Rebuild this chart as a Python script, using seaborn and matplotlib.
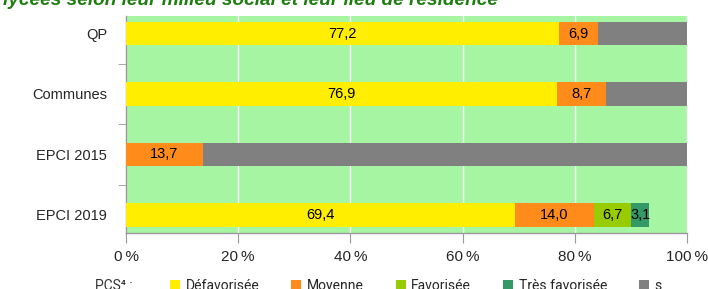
import numpy as np
import pandas as pd
import matplotlib
matplotlib.use("Agg")
import matplotlib.pyplot as plt
import matplotlib.patches as mpatches
import seaborn as sns

# data
categories = ["QP", "Communes", "EPCI 2015", "EPCI 2019"]
series = ["Défavorisée", "Moyenne", "Favorisée", "Très favorisée", "s"]
defavorisee = [77.2, 76.9, 0.0, 69.4]
moyenne = [6.9, 8.7, 13.7, 14.0]
favorisee = [0.0, 0.0, 0.0, 6.7]
tres_favorisee = [0.0, 0.0, 0.0, 3.1]
secret = [15.9, 14.4, 86.3, 0.0]
xticks = [0, 20, 40, 60, 80, 100]

colors = ["#ffee00", "#ff8c1a", "#99cc00", "#339966", "#808080"]
bg = "#a6f5a3"

df = pd.DataFrame({"cat": categories, "Défavorisée": defavorisee, "Moyenne": moyenne,
                   "Favorisée": favorisee, "Très favorisée": tres_favorisee, "s": secret})
cum = df[series].cumsum(axis=1)
cum["cat"] = df["cat"]

sns.set_style("white")
plt.rcParams["font.family"] = ["Liberation Sans", "DejaVu Sans"]

fig = plt.figure(figsize=(7.08, 2.89), dpi=100)
ax = fig.add_axes([126 / 708, 1 - 233 / 289, (687 - 126) / 708, (233 - 16) / 289])
ax.set_facecolor(bg)

# stacked bars: draw the widest cumulative first
for name, col in reversed(list(zip(series, colors))):
    sns.barplot(data=cum, x=name, y="cat", orient="h", color=col, saturation=1,
                width=0.39, linewidth=0, ax=ax, zorder=3)

# value labels in segment centres (not for "s")
for i, cat in enumerate(categories):
    left = 0
    for name in series:
        v = df.loc[i, name]
        if v > 0 and name != "s":
            ax.text(left + v / 2, i, f"{v:.1f}".replace(".", ","), ha="center", va="center",
                    fontsize=10.5, color="black", zorder=5)
        left += v

ax.set_xlim(0, 100)
ax.set_ylim(3.3, -0.29)
ax.set_xticks(xticks)
ax.set_xticklabels([f"{t}\u2009%" for t in xticks],
                   family=["Liberation Sans Narrow", "Liberation Sans", "DejaVu Sans"], fontsize=11)
ax.set_yticks(range(len(categories)))
ax.set_yticklabels(categories, fontsize=10.5)
ax.set_yticks([0.5, 1.5, 2.5], minor=True)
ax.set_xlabel("")
ax.set_ylabel("")
ax.grid(axis="x", color="white", linewidth=1, zorder=1)
ax.set_axisbelow(True)
ax.tick_params(axis="x", length=7, pad=5, color="#999999", bottom=True)
ax.tick_params(axis="y", which="major", length=0, pad=13.7)
ax.tick_params(axis="y", which="minor", length=6, color="#999999", left=True)
for s in ["top", "right"]:
    ax.spines[s].set_visible(False)
for s in ["left", "bottom"]:
    ax.spines[s].set_color("#999999")
    ax.spines[s].set_linewidth(1)

# title, cut off at the top in the reference
fig.text(3 / 708, 1 - 5 / 289, "lycées selon leur milieu social et leur lieu de résidence",
         fontsize=13.7, fontweight="bold", fontstyle="italic", color="#1e7d0f", va="baseline")

# legend
handles = [mpatches.Patch(facecolor=c, edgecolor="none", label=n) for n, c in zip(series, colors)]
fig.text(95 / 708, 1 - 286 / 289, "PCS\u2074 :", fontsize=10, family=["Roboto", "DejaVu Sans"],
         va="center", color="#333333")
fig.legend(handles=handles, loc="center left", bbox_to_anchor=(170 / 708, 1 - 286 / 289), ncol=5,
           frameon=False, borderpad=0, borderaxespad=0, handlelength=0.72, handleheight=0.72,
           handletextpad=0.4, columnspacing=2.3, prop={"family": "Roboto", "size": 10})

fig.savefig("out.png", dpi=100)
